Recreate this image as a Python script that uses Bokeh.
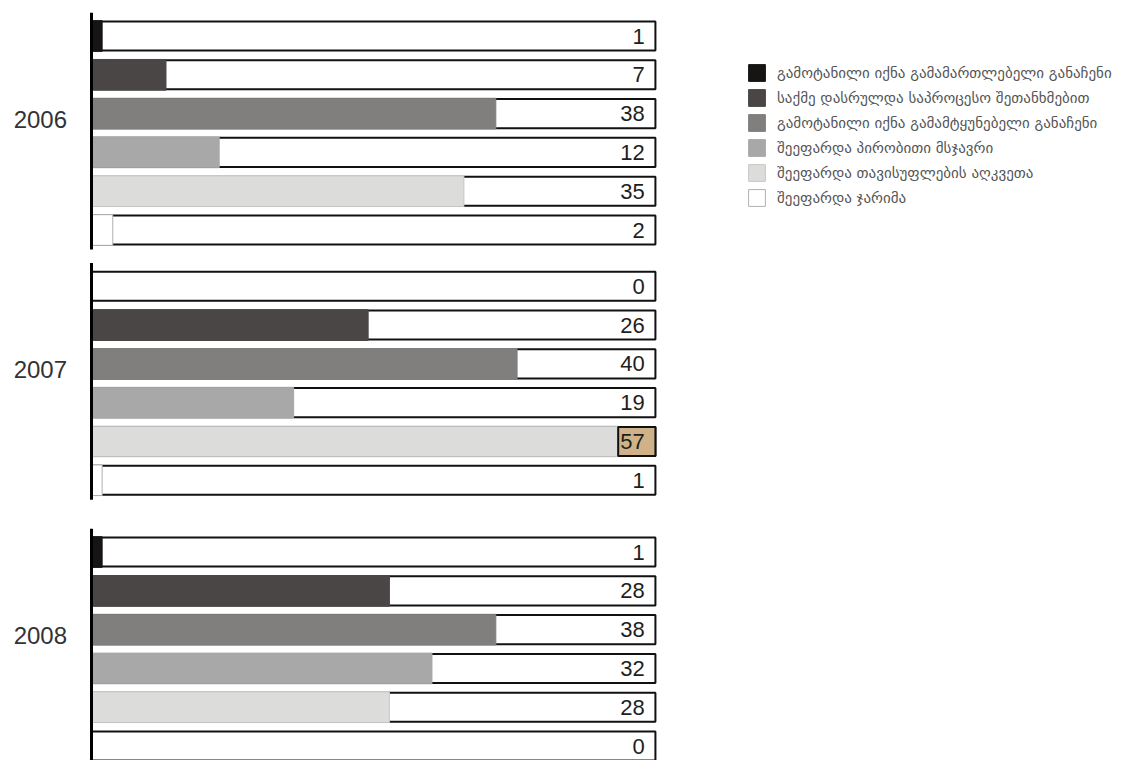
import numpy as np
from bokeh.plotting import figure
from bokeh.models import ColumnDataSource, Range1d, Legend, LegendItem
from bokeh.embed import file_html
from bokeh.resources import INLINE
from bokeh.core.properties import value

# ---------------- data ----------------
years = ["2006", "2007", "2008"]
categories = [
    "გამოტანილი იქნა გამამართლებელი განაჩენი",
    "საქმე დასრულდა საპროცესო შეთანხმებით",
    "გამოტანილი იქნა გამამტყუნებელი განაჩენი",
    "შეეფარდა პირობითი მსჯავრი",
    "შეეფარდა თავისუფლების აღკვეთა",
    "შეეფარდა ჯარიმა",
]
values_2006 = [1, 7, 38, 12, 35, 2]
values_2007 = [0, 26, 40, 19, 57, 1]
values_2008 = [1, 28, 38, 32, 28, 0]

# ---------------- style / layout ----------------
fill_colors = ["#171414", "#4a4646", "#807f7d", "#a8a8a8", "#dcdcda", "#ffffff"]
line_colors = ["#171414", "#4a4646", "#807f7d", "#a8a8a8", "#c8c8c8", "#b0b0b0"]
W, H = 1137, 760
SCALE_MAX = 53          # value at the right edge of each box
LABEL_W = 3.5           # width of the number area inside the box
PX_PER_UNIT = 10.64
X0_PX = 91              # pixel of value 0
ROW_PX = 38.8
ROW0_PX = 35.5
group_start = [0.0, 6.45, 13.3]

all_values = [values_2006, values_2007, values_2008]

x_start = -X0_PX / PX_PER_UNIT
x_end = (W - X0_PX) / PX_PER_UNIT
y_top = -ROW0_PX / ROW_PX
y_bottom = (H - ROW0_PX) / ROW_PX

p = figure(width=W, height=H, output_backend="svg", toolbar_location=None,
           x_range=Range1d(x_start, x_end), y_range=Range1d(y_bottom, y_top),
           min_border=0)
p.axis.visible = False
p.grid.visible = False
p.outline_line_color = None
p.background_fill_color = "white"

# row positions
rows_y, rows_v, rows_c = [], [], []
for g, vals in enumerate(all_values):
    for i, v in enumerate(vals):
        rows_y.append(group_start[g] + i)
        rows_v.append(v)
        rows_c.append(i)
rows_y = np.array(rows_y)
rows_v = np.array(rows_v)
rows_c = np.array(rows_c)

# outline boxes
box_src = ColumnDataSource(dict(y=rows_y, left=np.zeros(len(rows_y)),
                                right=np.full(len(rows_y), SCALE_MAX)))
p.hbar(y="y", left="left", right="right", height=0.75, source=box_src,
       fill_color="white", line_color="#111111", line_width=2)

# filled bars per category
cap = SCALE_MAX - LABEL_W
legend_items = []
for c, name in enumerate(categories):
    m = rows_c == c
    src = ColumnDataSource(dict(y=rows_y[m], right=np.minimum(rows_v[m], cap)))
    r = p.hbar(y="y", left=0, right="right", height=0.79, source=src,
               fill_color=fill_colors[c], line_color=line_colors[c], line_width=1)
    legend_items.append(LegendItem(label=name, renderers=[r]))

# highlighted number area when value exceeds the box
over = rows_v > cap
if over.any():
    hi_src = ColumnDataSource(dict(y=rows_y[over]))
    p.hbar(y="y", left=cap, right=SCALE_MAX, height=0.75, source=hi_src,
           fill_color="#cfb287", line_color="#111111", line_width=2)

# value labels
lab_src = ColumnDataSource(dict(x=np.full(len(rows_y), SCALE_MAX - 1.0), y=rows_y,
                                t=[str(v) for v in rows_v]))
p.text(x="x", y="y", text="t", source=lab_src, text_align="right",
       text_baseline="middle", text_font=value("Liberation Sans"),
       text_font_size="22px", text_color="#1e1e1e")

# group axis lines
gs = np.array(group_start)
p.segment(x0=0, x1=0, y0=gs - 0.6, y1=gs + 5.5, line_color="black", line_width=3)

# year labels
p.text(x=np.full(3, -2.3), y=gs + 2.15, text=years, text_align="right",
       text_baseline="middle", text_font=value("Liberation Sans"),
       text_font_size="24px", text_color="#333333")

legend = Legend(items=legend_items, location=(746, 552), orientation="vertical",
                glyph_width=21, glyph_height=21, label_height=21, spacing=4,
                label_standoff=10, padding=0, margin=0,
                border_line_color=None, background_fill_alpha=0,
                label_text_font="DejaVu Sans", label_text_font_size="15px",
                label_text_color="#555555")
p.add_layout(legend, "center")

open("out.html", "w").write(file_html(p, INLINE))
